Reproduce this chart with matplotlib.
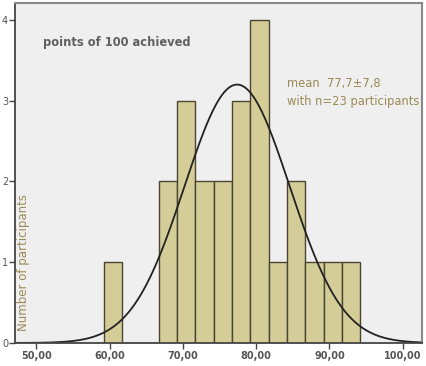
import matplotlib.pyplot as plt
import numpy as np

# histogram bins (width 2.5) and counts
bin_edges = [59.2, 61.7, 64.2, 66.7, 69.2, 71.7, 74.2, 76.7, 79.2, 81.7, 84.2, 86.7, 89.2, 91.7, 94.2]
counts = [1, 0, 0, 2, 3, 2, 2, 3, 4, 1, 2, 1, 1, 1]
x_ticks = [50, 60, 70, 80, 90, 100]
x_labels = ['50,00', '60,00', '70,00', '80,00', '90,00', '100,00']
y_ticks = [0, 1, 2, 3, 4]

# normal curve fit
mu, sd, n = 77.4, 7.17, 23
bw = 2.5

fig = plt.figure(figsize=(4.27, 3.66), dpi=100)
ax = fig.add_axes([0.035, 0.063, 0.953, 0.929])
ax.set_facecolor('#efefef')

lefts = np.array(bin_edges[:-1])
widths = np.diff(bin_edges)
ax.bar(lefts, counts, width=widths, align='edge', color='#d4cd98',
       edgecolor='#4a4632', linewidth=1.0)

xs = np.linspace(47, 103, 400)
ys = n * bw / (sd * np.sqrt(2 * np.pi)) * np.exp(-0.5 * ((xs - mu) / sd) ** 2)
ax.plot(xs, ys, color='#222222', linewidth=1.3)

ax.set_xlim(47.1, 102.6)
ax.set_ylim(0, 4.21)
ax.set_xticks(x_ticks)
ax.set_xticklabels(x_labels, fontsize=7, color='#555555', fontweight='bold')
ax.set_yticks(y_ticks)
ax.set_yticklabels([str(v) for v in y_ticks], fontsize=7, color='#555555')
ax.tick_params(axis='x', length=4, width=1, color='#444444', pad=2)
ax.tick_params(axis='y', length=4, width=1, color='#444444', pad=1)

for s in ['top', 'right']:
    ax.spines[s].set_color('#888888')
    ax.spines[s].set_linewidth(1.5)
for s in ['left', 'bottom']:
    ax.spines[s].set_color('#444444')
    ax.spines[s].set_linewidth(1.3)

ax.text(50.9, 3.72, 'points of 100 achieved', fontsize=8.3, fontweight='bold',
        color='#606060', va='center')
ax.text(84.2, 3.1, 'mean  77,7\u00b17,8\nwith n=23 participants', fontsize=8.3,
        color='#9a8a55', va='center', linespacing=1.45)
ax.text(48.3, 1.0, 'Number of participants', rotation=90, fontsize=8.5,
        color='#9a8a55', va='center', ha='center')

plt.savefig('out.png', dpi=100)
